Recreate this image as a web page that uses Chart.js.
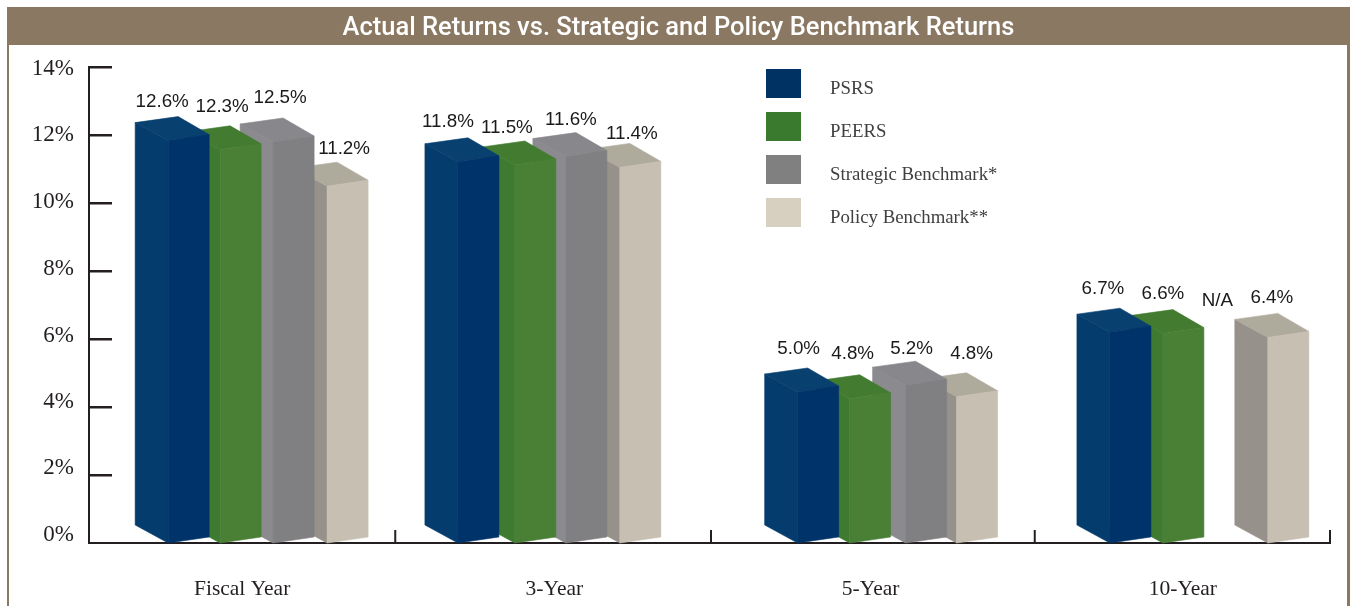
<!DOCTYPE html>
<html>
<head>
<meta charset="utf-8">
<style>html,body{margin:0;padding:0;background:#fff}canvas{display:block}</style>
<script src="https://cdn.jsdelivr.net/npm/chart.js@4/dist/chart.umd.js"></script>
</head>
<body>
<canvas id="c" width="1354" height="606"></canvas>
<script>
const categories = ['Fiscal Year', '3-Year', '5-Year', '10-Year'];
const psrs = [12.6, 11.8, 5.0, 6.7];
const peers = [12.3, 11.5, 4.8, 6.6];
const strategic = [12.5, 11.6, 5.2, null];
const policy = [11.2, 11.4, 4.8, 6.4];
const seriesNames = ['PSRS', 'PEERS', 'Strategic Benchmark*', 'Policy Benchmark**'];
const titleText = 'Actual Returns vs. Strategic and Policy Benchmark Returns';
const missingText = 'N/A';
const missingLevel = 7.15;

const seriesValues = [psrs, peers, strategic, policy];
const frontColors = ['#00336a', '#4a7f36', '#808082', '#c7bfb1'];
const sideColors = ['#053c6e', '#3e7a30', '#8b8b8f', '#96918a'];
const topColors = ['#08406f', '#437c31', '#88878b', '#aeaa9c'];
const legendColors = ['#003264', '#3a7a2e', '#808080', '#d7cfbf'];
const INK = '#231f20', BAND = '#8a7862';

// The reference's 3-D drawing is hand-adjusted: per group (row) and series (column) nudges.
const barDx = [[13.5, 12.5, 12.5, 13.5], [-7, -3, -5, -4], [22.5, 21.5, 24.5, 22.5], [24.5, 24.5, 24, 23.5]];
const barLift = [[-2, -1, 0, 0], [4, 11, 16, 12], [5, 5, 5, 7], [7, 9, 0, 12]];
const labelDx = [[-16, -8, -3, 7], [-20, -18, -5, 2], [-9, -7, -4, 5], [-17, -10, -8, -6]];
const labelDy = [[-16, -20, -21, -14], [-17, -14, -14, -11], [-20, -22, -13, -20], [-20, -17, 0, -17]];
const xLabelShift = [-2, 0, 6, 8];
const yLabelShift = [-8, -7, -5, -3, -2, -1, 0, 2];
const xTickShift = [-4, 1.5, 15];

const frame = {
  id: 'frame',
  beforeDraw(chart) {
    const c = chart.ctx;
    c.save();
    c.fillStyle = BAND;
    c.fillRect(7, 7, 1343, 38);
    c.fillRect(7, 45, 2, 561);
    c.fillRect(1347, 45, 3, 561);
    c.restore();
  }
};

const bars3d = {
  id: 'bars3d',
  beforeDatasetDraw(chart, args) {
    const c = chart.ctx, i = args.index;
    args.meta.data.forEach((el, k) => {
      if (seriesValues[i][k] === null) return;
      const x = el.x + barDx[k][i], y = el.y - barLift[k][i], b = el.base;
      const poly = (pts, col) => {
        c.beginPath();
        pts.forEach((p, n) => n ? c.lineTo(p[0], p[1]) : c.moveTo(p[0], p[1]));
        c.closePath();
        c.fillStyle = col;
        c.strokeStyle = col;
        c.lineWidth = 0.6;
        c.fill();
        c.stroke();
      };
      poly([[x - 43, y + 6], [x - 10, y + 24], [x - 10, b], [x - 43, b - 18]], sideColors[i]);
      poly([[x - 43, y + 6], [x, y], [x + 31, y + 18], [x - 10, y + 24]], topColors[i]);
      poly([[x - 10, y + 24], [x + 31, y + 18], [x + 31, b - 6], [x - 10, b]], frontColors[i]);
    });
    return false;
  },
  afterDatasetsDraw(chart) {
    const c = chart.ctx, sy = chart.scales.y, sx = chart.scales.x;
    c.save();
    c.fillStyle = INK;
    sy.ticks.forEach(t => {
      const p = sy.getPixelForValue(t.value);
      if (t.value > 0) c.fillRect(89, p - 1, 23, 2.5);
    });
    for (let k = 0; k < categories.length; k++) {
      const p = k < 3
        ? (sx.getPixelForValue(k) + sx.getPixelForValue(k + 1)) / 2 + xTickShift[k]
        : sx.right;
      c.fillRect(p - 1, sy.bottom - 13, 2, 13);
    }
    c.font = '18.8px "Liberation Sans"';
    c.fillStyle = '#1a1a1a';
    c.textAlign = 'center';
    c.textBaseline = 'middle';
    seriesValues.forEach((vals, i) => {
      chart.getDatasetMeta(i).data.forEach((el, k) => {
        const x = el.x + barDx[k][i] + labelDx[k][i];
        if (vals[k] === null) {
          c.fillText(missingText, x, sy.getPixelForValue(missingLevel) + 1);
        } else {
          c.fillText(vals[k].toFixed(1) + '%', x, el.y - barLift[k][i] + labelDy[k][i] + 1);
        }
      });
    });
    c.textAlign = 'left';
    c.font = '18.8px "Liberation Serif"';
    chart.data.datasets.forEach((d, i) => {
      const top = 69 + i * 43;
      c.fillStyle = legendColors[i];
      c.fillRect(766, top, 35, 29);
      c.fillStyle = '#404040';
      c.fillText(d.label, 830, top + 20);
    });
    c.restore();
  }
};

new Chart(document.getElementById('c'), {
  type: 'bar',
  data: {
    labels: categories,
    datasets: seriesValues.map((vals, i) => ({
      label: seriesNames[i],
      data: vals,
      backgroundColor: frontColors[i],
      categoryPercentage: 0.683,
      barPercentage: 1
    }))
  },
  plugins: [frame, bars3d],
  options: {
    responsive: false,
    animation: false,
    layout: { padding: { left: 27, right: 24, top: 0, bottom: 0 } },
    plugins: {
      legend: { display: false },
      tooltip: { enabled: false },
      title: {
        display: true,
        text: titleText,
        color: '#ffffff',
        font: { family: 'Roboto', size: 25.5, weight: '500', lineHeight: 1.2 },
        padding: { top: 13.5, bottom: 22.9 }
      }
    },
    scales: {
      x: {
        grid: { display: false },
        border: { display: true, width: 2, color: INK },
        ticks: {
          color: INK, padding: 25, maxRotation: 0,
          font: { family: 'Liberation Serif', size: 21.5 }
        },
        afterFit(s) { s.height = 63; },
        afterUpdate(s) {
          s.getPixelForTick = function (n) {
            return Chart.Scale.prototype.getPixelForTick.call(this, n) + xLabelShift[n];
          };
        }
      },
      y: {
        min: 0, max: 14,
        grid: { display: false },
        border: { display: true, width: 2, color: INK },
        ticks: {
          stepSize: 2, color: INK, padding: 7,
          callback: v => v + '%',
          font: { family: 'Liberation Serif', size: 23 }
        },
        afterFit(s) { s.width = 62; },
        afterUpdate(s) {
          s.getPixelForTick = function (n) {
            return Chart.Scale.prototype.getPixelForTick.call(this, n) + yLabelShift[n];
          };
        }
      }
    }
  }
});
</script>
</body>
</html>
